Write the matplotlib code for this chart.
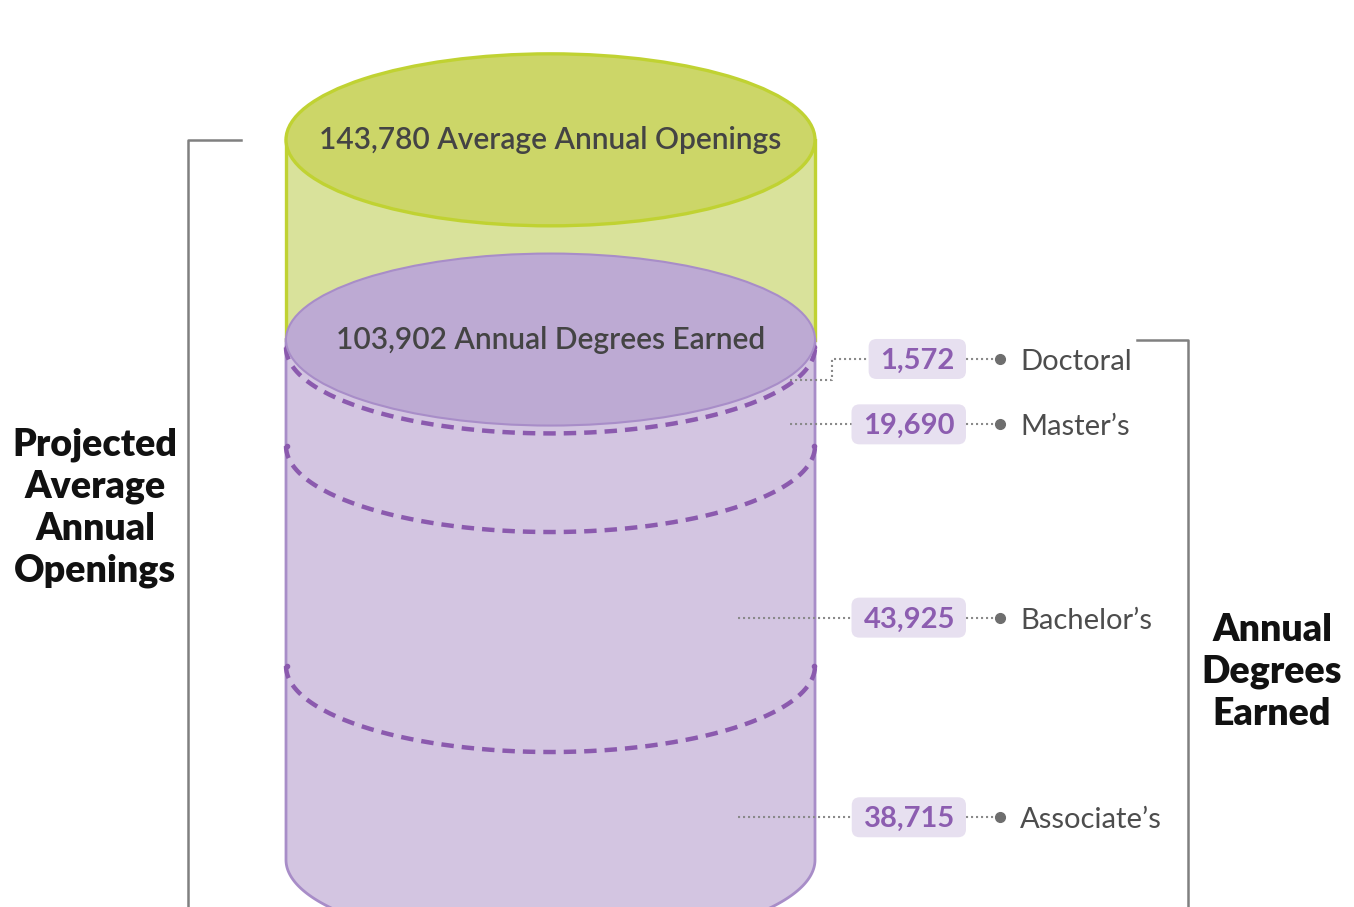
import numpy as np
import matplotlib.pyplot as plt
from matplotlib.patches import Ellipse, Polygon, Rectangle, FancyBboxPatch

plt.rcParams['font.family'] = ['Lato', 'DejaVu Sans']

# data
openings_total = 143780
degree_levels = ["Associate’s", "Bachelor’s", "Master’s", "Doctoral"]   # bottom -> top
degree_counts = [38715, 43925, 19690, 1572]
openings_text = "Average Annual Openings"
degrees_text = "Annual Degrees Earned"
left_title = "Projected\nAverage\nAnnual\nOpenings"
right_title = "Annual\nDegrees\nEarned"

# colours
GREEN_TOP, GREEN_BODY, GREEN_EDGE = '#ccd668', '#d9e29b', '#c0d232'
PURPLE_TOP, PURPLE_BODY, PURPLE_EDGE = '#bdaad3', '#d3c5e1', '#a88dc8'
DASH = '#8b5aae'
NUM_COLOR, BOX_COLOR = '#8c5db0', '#e7e0f0'
LEADER = '#8a8a8a'

W, H = 1354, 907
Y_LO, Y_HI = -9.4, 171.7          # thousands
PX = H / (Y_HI - Y_LO)            # pixels per thousand

fig = plt.figure(figsize=(W / 100, H / 100), dpi=100)
ax = fig.add_axes([0, 0, 1, 1])
ax.set_xlim(0, W)
ax.set_ylim(Y_LO, Y_HI)
ax.axis('off')

cx, rx = 550.5, 264.5
ry = 86 / PX

bounds = np.cumsum(degree_counts) / 1000.0
deg_top = bounds[-1]
open_top = openings_total / 1000.0
t = np.linspace(np.pi, 2 * np.pi, 200)
arc_x = cx + rx * np.cos(t)
arc_dy = ry * np.sin(t)

# green part of the cylinder (openings)
ax.add_patch(Rectangle((cx - rx, deg_top), 2 * rx, open_top - deg_top,
                       fc=GREEN_BODY, ec='none', zorder=1))
for sx in (cx - rx, cx + rx):
    ax.plot([sx, sx], [deg_top, open_top], color=GREEN_EDGE, lw=2.4, zorder=2)
ax.add_patch(Ellipse((cx, open_top), 2 * rx, 2 * ry, fc=GREEN_TOP,
                     ec=GREEN_EDGE, lw=2.4, zorder=3))

# purple part (degrees)
body = np.column_stack([np.r_[cx - rx, arc_x, cx + rx],
                        np.r_[deg_top, arc_dy, deg_top]])
ax.add_patch(Polygon(body, closed=True, fc=PURPLE_BODY, ec=PURPLE_EDGE,
                     lw=2, zorder=4))
for b in bounds[:-1]:
    ax.plot(arc_x, b + arc_dy, color=DASH, lw=3.2, ls=(0, (2.8, 1.8)), zorder=5)
    ax.plot([cx - rx + 1, cx + rx - 1], [b, b], 'o', ms=3, color=DASH, zorder=5)
ax.add_patch(Ellipse((cx, deg_top), 2 * rx, 2 * ry, fc=PURPLE_TOP,
                     ec=PURPLE_EDGE, lw=1.5, zorder=6))

ax.text(cx, open_top, f"{openings_total:,} {openings_text}", ha='center',
        va='center', fontsize=21.5, fontweight='semibold', color='#444444', zorder=8)
ax.text(cx, deg_top, f"{int(deg_top * 1000):,} {degrees_text}", ha='center',
        va='center', fontsize=21.5, fontweight='semibold', color='#444444', zorder=8)

# label rows
lows = np.r_[0, bounds[:-1]]
label_y = [lo + 0.22 * n / 1000 for lo, n in zip(lows, degree_counts)]
elbow_x = 790
doc_mid = bounds[2] + degree_counts[3] / 2000
doc_target = doc_mid - ry * np.sqrt(1 - ((elbow_x - cx) / rx) ** 2)
label_y[3] = doc_target + 21 / PX
lead_x = [738, 738, 790, 790]

dotted = dict(color=LEADER, lw=1.5, ls=(0, (1, 1.4)), zorder=7)
renderer = fig.canvas.get_renderer()
for name, n, y, lx in zip(degree_levels, degree_counts, label_y, lead_x):
    if name == "Doctoral":
        ax.plot([lx, 832, 832, 950], [doc_target, doc_target, y, y], **dotted)
    else:
        ax.plot([lx, 950], [y, y], **dotted)
    txt = ax.text(955, y - 10 / PX, f"{n:,}", ha='right', va='baseline',
                  fontsize=21, fontweight='bold', color=NUM_COLOR, zorder=10)
    bb = txt.get_window_extent(renderer)
    x0 = bb.x0 - 12
    ax.add_patch(FancyBboxPatch((x0, y - 20 / PX), 966 - x0, 40 / PX,
                                boxstyle='round,pad=0,rounding_size=8',
                                mutation_aspect=1 / PX, fc=BOX_COLOR,
                                ec='none', zorder=9))
    ax.plot([966, 1000], [y, y], **dotted)
    ax.plot(1000, y, 'o', ms=7, color='#6e6e6e', zorder=8)
    ax.text(1020, y - 11 / PX, name, ha='left', va='baseline', fontsize=21,
            color='#4d4d4d', zorder=8)

# brackets
ax.plot([241, 188, 188], [open_top, open_top, Y_LO - 5], color='#808080', lw=1.8)
ax.plot([1137, 1188, 1188], [deg_top, deg_top, Y_LO - 5], color='#808080', lw=1.8)

fig.text(95 / W, 1 - 508 / H, left_title, ha='center', va='center',
         fontsize=27, fontweight='heavy', linespacing=1.27, color='#111111')
fig.text(1272 / W, 1 - 672 / H, right_title, ha='center', va='center',
         fontsize=27, fontweight='heavy', linespacing=1.27, color='#111111')

fig.savefig('out.png', dpi=100, facecolor='white')
